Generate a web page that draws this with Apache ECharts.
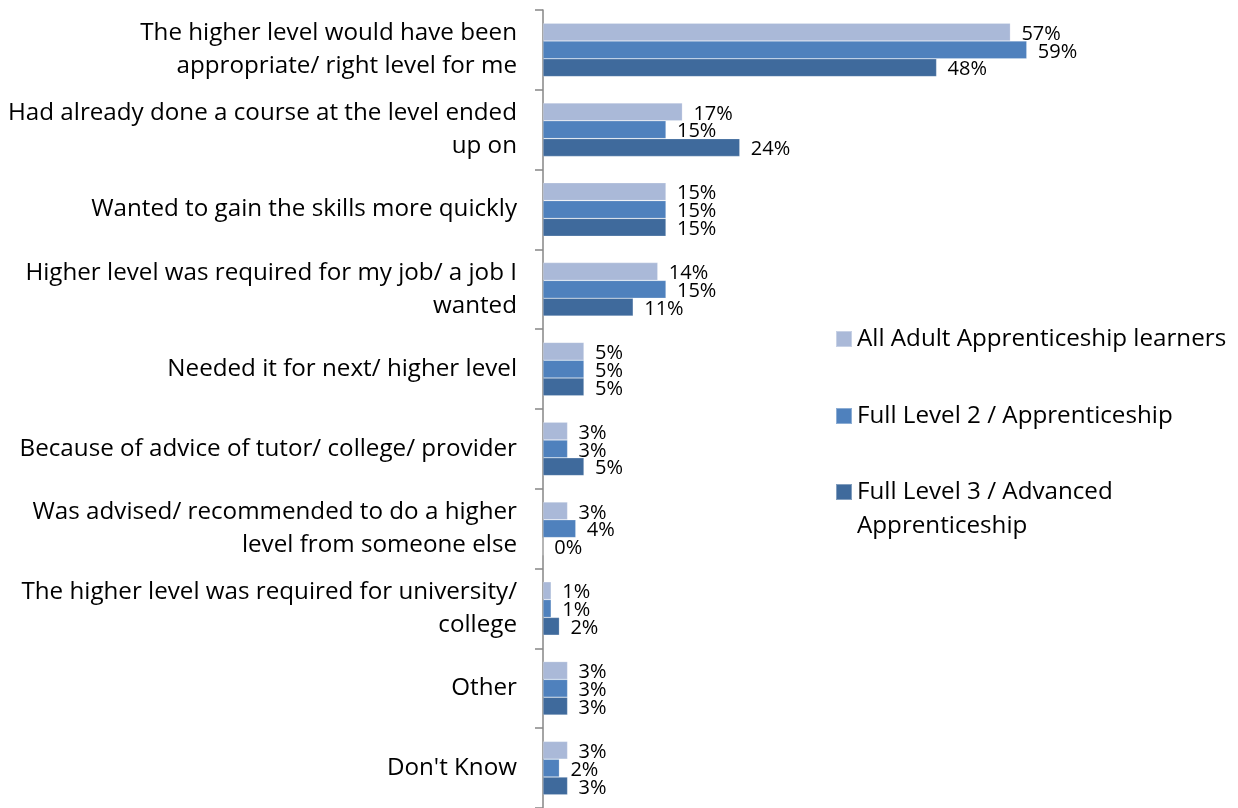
<!DOCTYPE html>
<html>
<head>
<meta charset="utf-8">
<script src="https://cdn.jsdelivr.net/npm/echarts@6/dist/echarts.min.js"></script>
<style>
  html, body { margin: 0; padding: 0; background: #fff; }
  #chart { width: 1238px; height: 808px; }
</style>
</head>
<body>
<div id="chart"></div>
<script>
// Reasons for choosing the higher level (percent of respondents)
const categories = [
  'The higher level would have been\nappropriate/ right level for me',
  'Had already done a course at the level ended\nup on',
  'Wanted to gain the skills more quickly',
  'Higher level was required for my job/ a job I\nwanted',
  'Needed it for next/ higher level',
  'Because of advice of tutor/ college/ provider',
  'Was advised/ recommended to do a higher\nlevel from someone else',
  'The higher level was required for university/\ncollege',
  'Other',
  "Don't Know"
];
const seriesNames = [
  'All Adult Apprenticeship learners',
  'Full Level 2 / Apprenticeship',
  'Full Level 3 / Advanced\nApprenticeship'
];
const allAdult = [57, 17, 15, 14, 5, 3, 3, 1, 3, 3];
const fullLevel2 = [59, 15, 15, 15, 5, 3, 4, 1, 3, 2];
const fullLevel3 = [48, 24, 15, 11, 5, 5, 0, 2, 3, 3];
const colors = ['#AAB9D8', '#4F81BD', '#3F6A9C'];

const FONT = 'Open Sans';
const values = [allAdult, fullLevel2, fullLevel3];

const chart = echarts.init(document.getElementById('chart'), null, { renderer: 'canvas' });

const series = values.map((data, i) => ({
  name: seriesNames[i],
  type: 'bar',
  data: data,
  barGap: '0%',
  barCategoryGap: '33%',
  itemStyle: { color: colors[i], borderColor: 'rgba(255,255,255,0.35)', borderWidth: 0.6 },
  label: {
    show: true,
    position: 'right',
    distance: 11,
    offset: [0, 2],
    formatter: '{c}%',
    color: '#000',
    fontFamily: FONT,
    fontSize: 20
  },
  animation: false
}));

// One legend block per series; the two-line entry gets a leading blank line
// so its first line sits level with the swatch.
function legendFor(i, top, twoLine) {
  return {
    data: [{ name: seriesNames[i], itemStyle: { color: colors[i] } }],
    orient: 'vertical',
    left: 835,
    top: top,
    padding: 0,
    itemWidth: 16,
    itemHeight: 16,
    selectedMode: false,
    icon: 'rect',
    formatter: twoLine ? (name) => ' \n' + name : (name) => name,
    textStyle: {
      color: '#000',
      fontFamily: FONT,
      fontSize: 24.2,
      lineHeight: 34
    }
  };
}

chart.setOption({
  animation: false,
  backgroundColor: '#fff',
  color: colors,
  grid: { left: 543, top: 10, width: 574, height: 800, containLabel: false },
  xAxis: {
    type: 'value',
    min: 0,
    max: 70,
    show: false
  },
  yAxis: {
    type: 'category',
    data: categories,
    inverse: true,
    axisLine: { show: true, lineStyle: { color: '#868686', width: 1.5 } },
    axisTick: { show: true, length: 8, lineStyle: { color: '#868686', width: 1.5 } },
    axisLabel: {
      color: '#000',
      fontFamily: FONT,
      fontSize: 24.2,
      lineHeight: 33,
      margin: 26,
      padding: [4, 0, 0, 0],
      align: 'right'
    }
  },
  legend: [
    legendFor(0, 322),
    legendFor(1, 399),
    legendFor(2, 441, true)
  ],
  series: series
});
</script>
</body>
</html>
